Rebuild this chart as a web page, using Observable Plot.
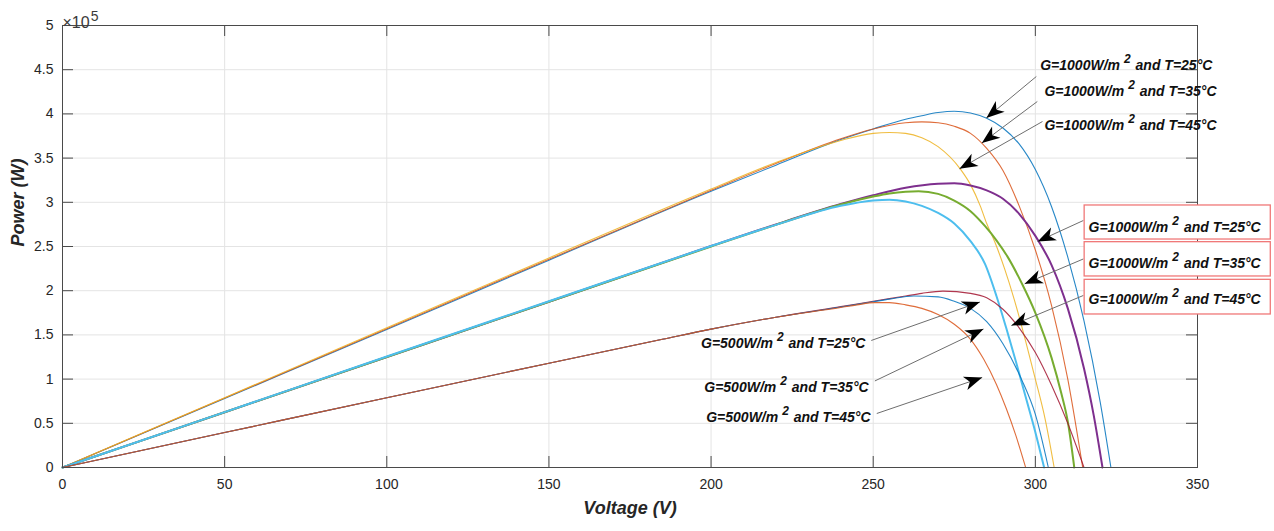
<!DOCTYPE html>
<html>
<head>
<meta charset="utf-8">
<script src="https://cdn.jsdelivr.net/npm/d3@7"></script>
<script src="https://cdn.jsdelivr.net/npm/@observablehq/plot@0.6"></script>
<style>
  html, body { margin: 0; padding: 0; background: #ffffff; }
  #chart { width: 1274px; height: 531px; }
</style>
</head>
<body>
<div id="chart"></div>
<script>
// ---------- axis ticks ----------
const voltageTicks = [0, 50, 100, 150, 200, 250, 300, 350];
const powerTicks = [0, 0.5, 1, 1.5, 2, 2.5, 3, 3.5, 4, 4.5, 5];
const powerTickLabels = ["0", "0.5", "1", "1.5", "2", "2.5", "3", "3.5", "4", "4.5", "5"];

// ---------- series (Voltage V, Power in x10^5 W) ----------
const curveNames = ["A25", "A35", "A45", "B25", "B35", "B45", "C25", "C35", "C45"];
const curveGroups = ["A", "A", "A", "B", "B", "B", "C", "C", "C"];
const curveColors = ["#0072BD", "#D95319", "#EDB120", "#7E2F8E", "#77AC30", "#4DBEEE", "#A2142F", "#0072BD", "#D95319"];

const vA25 = [0, 50, 100, 150, 200, 220, 240, 250, 260, 265, 270, 275, 280, 285, 290, 295, 300, 305, 310, 315, 320, 323.3];
const pA25 = [0, 0.78, 1.56, 2.345, 3.125, 3.42, 3.71, 3.83, 3.94, 3.98, 4.015, 4.03, 4.01, 3.95, 3.84, 3.66, 3.37, 2.95, 2.38, 1.66, 0.74, 0];

const vA35 = [0, 50, 100, 150, 200, 220, 240, 250, 260, 265, 270, 275, 280, 285, 290, 295, 300, 305, 310, 314.6];
const pA35 = [0, 0.785, 1.57, 2.355, 3.135, 3.44, 3.72, 3.83, 3.9, 3.91, 3.9, 3.86, 3.78, 3.61, 3.36, 2.96, 2.46, 1.83, 1.0, 0];

const vA45 = [0, 50, 100, 150, 200, 220, 240, 250, 255, 260, 265, 270, 277, 280, 283, 285, 287.5, 290.5, 293.5, 297, 300, 303, 305.8];
const pA45 = [0, 0.79, 1.58, 2.37, 3.15, 3.45, 3.7, 3.78, 3.79, 3.78, 3.73, 3.63, 3.37, 3.2, 2.96, 2.76, 2.55, 2.25, 1.9, 1.43, 1.0, 0.55, 0];

const vB25 = [0, 50, 100, 150, 200, 220, 240, 250, 260, 270, 275, 280, 285, 290, 295, 300, 305, 310, 315, 318, 320.7];
const pB25 = [0, 0.625, 1.25, 1.875, 2.505, 2.75, 2.98, 3.08, 3.165, 3.21, 3.215, 3.19, 3.135, 3.04, 2.87, 2.62, 2.29, 1.8, 1.12, 0.59, 0];

const vB35 = [0, 50, 100, 150, 200, 220, 240, 250, 255, 260, 264, 270, 275, 280, 284.5, 288, 291.5, 296, 300, 305, 308, 310, 312];
const pB35 = [0, 0.625, 1.25, 1.875, 2.5, 2.745, 2.975, 3.065, 3.1, 3.12, 3.125, 3.095, 3.02, 2.9, 2.73, 2.57, 2.38, 2.07, 1.75, 1.24, 0.84, 0.52, 0];

const vB45 = [0, 50, 100, 150, 200, 220, 240, 250, 255, 260, 265, 270, 275, 280, 284.5, 288, 291, 294, 297, 300, 302.7];
const pB45 = [0, 0.627, 1.255, 1.88, 2.505, 2.745, 2.96, 3.02, 3.03, 3.01, 2.96, 2.88, 2.76, 2.56, 2.3, 1.94, 1.58, 1.2, 0.8, 0.4, 0];

const vC25 = [0, 50, 100, 150, 185, 200, 220, 240, 250, 260, 265, 271.5, 280, 285, 290, 295, 300, 305, 310, 315];
const pC25 = [0, 0.395, 0.79, 1.18, 1.45, 1.565, 1.7, 1.82, 1.88, 1.94, 1.97, 1.995, 1.97, 1.92, 1.79, 1.58, 1.3, 0.93, 0.5, 0];

const vC35 = [0, 50, 100, 150, 185, 200, 220, 240, 250, 255, 262.5, 270, 275, 280, 285, 290, 295.7, 300, 304];
const pC35 = [0, 0.395, 0.79, 1.18, 1.45, 1.565, 1.7, 1.815, 1.875, 1.905, 1.94, 1.93, 1.88, 1.8, 1.65, 1.4, 1.0, 0.6, 0];

const vC45 = [0, 50, 100, 150, 185, 200, 220, 240, 245, 250.5, 255, 260, 265, 270, 275, 280, 284, 288, 291, 294, 297];
const pC45 = [0, 0.395, 0.79, 1.18, 1.45, 1.565, 1.7, 1.81, 1.84, 1.865, 1.865, 1.84, 1.8, 1.73, 1.62, 1.45, 1.23, 0.94, 0.67, 0.36, 0];

const seriesV = [vA25, vA35, vA45, vB25, vB35, vB45, vC25, vC35, vC45];
const seriesP = [pA25, pA35, pA45, pB25, pB35, pB45, pC25, pC35, pC45];

// ---------- annotations (data coordinates) ----------
const topLabels = ["G=1000W/m^2 and T=25°C", "G=1000W/m^2 and T=35°C", "G=1000W/m^2 and T=45°C"];
const topLabelV = [301.5, 302.8, 302.8];
const topLabelP = [4.548, 4.248, 3.869];

const boxLabels = ["G=1000W/m^2 and T=25°C", "G=1000W/m^2 and T=35°C", "G=1000W/m^2 and T=45°C"];
const boxLabelV = [316.4, 316.4, 316.4];
const boxLabelP = [2.718, 2.311, 1.897];
const boxV1 = [315.2, 315.2, 315.2];
const boxV2 = [372.6, 372.6, 372.6];
const boxP1 = [2.579, 2.161, 1.731];
const boxP2 = [2.964, 2.549, 2.123];

const lowLabels = ["G=500W/m^2 and T=25°C", "G=500W/m^2 and T=35°C", "G=500W/m^2 and T=45°C"];
const lowLabelV = [196.9, 197.9, 198.5];
const lowLabelP = [1.40, 0.908, 0.569];

const arrowV1 = [300.3, 300.6, 302.2, 314.8, 314.8, 314.8, 249.4, 250.5, 251.1];
const arrowP1 = [4.423, 4.140, 3.914, 2.794, 2.359, 1.946, 1.437, 0.979, 0.611];
const arrowV2 = [284.9, 283.5, 276.6, 300.7, 296.7, 292.6, 282.9, 284.0, 283.6];
const arrowP2 = [3.954, 3.671, 3.379, 2.557, 2.078, 1.606, 1.872, 1.567, 1.018];

// ---------- build tables ----------
const rows = [];
curveNames.forEach((name, i) => {
  seriesV[i].forEach((v, j) => rows.push({curve: name, group: curveGroups[i], V: v, P: seriesP[i][j]}));
});
const labelRows = (texts, vs, ps) => texts.map((t, i) => ({text: t, V: vs[i], P: ps[i]}));
const topRows = labelRows(topLabels, topLabelV, topLabelP);
const boxTextRows = labelRows(boxLabels, boxLabelV, boxLabelP);
const lowRows = labelRows(lowLabels, lowLabelV, lowLabelP);
const boxRows = boxV1.map((v, i) => ({V1: v, V2: boxV2[i], P1: boxP1[i], P2: boxP2[i]}));
const arrows = arrowV1.map((v, i) => ({V1: v, P1: arrowP1[i], V2: arrowV2[i], P2: arrowP2[i]}));

// ---------- layout ----------
const W = 1274, H = 531;
const mL = 62, mR = 77, mT = 25, mB = 64;
const plotW = W - mL - mR, plotH = H - mT - mB;
const tickLen = 11;
const axisColor = "#4a4a4a";
const font = "'Liberation Sans', Arial, Helvetica, sans-serif";

const baseOptions = {
  width: W, height: H,
  marginLeft: mL, marginRight: mR, marginTop: mT, marginBottom: mB,
  style: {fontFamily: font, fontSize: "14px", color: "#262626", background: "#ffffff", overflow: "visible"},
  x: {domain: [0, 350]},
  y: {domain: [0, 5]},
  color: {domain: curveNames, range: curveColors}
};

// probe scales to orient arrowheads in screen space
const probe = Plot.plot({...baseOptions, marks: [Plot.frame()]});
const sx = probe.scale("x"), sy = probe.scale("y");
arrows.forEach(a => {
  const dx = sx.apply(a.V2) - sx.apply(a.V1);
  const dy = sy.apply(a.P2) - sy.apply(a.P1);
  a.angle = Math.atan2(dy, dx) * 180 / Math.PI;
});

const arrowHead = {
  draw(ctx) {
    ctx.moveTo(0, 0);
    ctx.lineTo(-18, -7);
    ctx.lineTo(-13, 0);
    ctx.lineTo(-18, 7);
    ctx.closePath();
  }
};

const lineOpts = (width, opacity) => ({x: "V", y: "P", z: "curve", stroke: "curve", strokeWidth: width, strokeOpacity: opacity, curve: "monotone-x"});
const textStyle = {x: "V", y: "P", text: "text", textAnchor: "start", fontWeight: "bold", fontStyle: "italic", fontSize: 14, fill: "#111111"};

const chart = Plot.plot({
  ...baseOptions,
  marks: [
    Plot.gridX(voltageTicks, {stroke: "#e4e4e4", strokeOpacity: 1}),
    Plot.gridY(powerTicks, {stroke: "#e4e4e4", strokeOpacity: 1}),
    Plot.line(rows.filter(d => d.group === "A"), lineOpts(1.1, 0.85)),
    Plot.line(rows.filter(d => d.group === "B"), lineOpts(2, 1)),
    Plot.line(rows.filter(d => d.group === "C"), lineOpts(1.1, 0.85)),
    Plot.frame({stroke: axisColor, strokeWidth: 1}),
    Plot.tickX(voltageTicks, {x: d => d, stroke: axisColor, insetTop: plotH - tickLen}),
    Plot.tickX(voltageTicks, {x: d => d, stroke: axisColor, insetBottom: plotH - tickLen}),
    Plot.tickY(powerTicks, {y: d => d, stroke: axisColor, insetRight: plotW - tickLen}),
    Plot.tickY(powerTicks, {y: d => d, stroke: axisColor, insetLeft: plotW - tickLen}),
    Plot.axisX(voltageTicks, {tickSize: 0, tickPadding: 12, label: null, fontSize: 14, fill: "#262626"}),
    Plot.axisY(powerTicks, {tickSize: 0, tickPadding: 9, label: null, fontSize: 14, fill: "#262626",
      tickFormat: d => powerTickLabels[powerTicks.indexOf(d)]}),
    // annotation arrows
    Plot.link(arrows, {x1: "V1", y1: "P1", x2: "V2", y2: "P2", stroke: "#6e6e6e", strokeWidth: 1}),
    Plot.dot(arrows, {x: "V2", y: "P2", symbol: arrowHead, rotate: "angle", fill: "#000000", stroke: "none"}),
    // boxed labels
    Plot.rect(boxRows, {x1: "V1", x2: "V2", y1: "P1", y2: "P2", fill: "#ffffff", stroke: "#f07878", strokeWidth: 1.3}),
    Plot.text(topRows, textStyle),
    Plot.text(boxTextRows, textStyle),
    Plot.text(lowRows, textStyle),
    // exponent and titles
    Plot.text(["×10^5"], {frameAnchor: "top-left", dy: -9, textAnchor: "start", fontSize: 16, fill: "#3a3a3a"}),
    Plot.text(["Voltage (V)"], {frameAnchor: "bottom", dy: 46, fontSize: 18, fontWeight: "bold", fontStyle: "italic", fill: "#262626"}),
    Plot.text(["Power (W)"], {frameAnchor: "left", dx: -44, rotate: -90, fontSize: 18, fontWeight: "bold", fontStyle: "italic", fill: "#262626"})
  ]
});

// superscripts ("^2" in W/m^2, "^5" in x10^5)
d3.select(chart).selectAll("text").each(function () {
  const t = this.textContent;
  const m = t.match(/^(.*)\^(\d)(.*)$/);
  if (!m) return;
  const sel = d3.select(this);
  sel.text(null);
  sel.append("tspan").text(m[1]);
  const isUnit = m[3].length > 0;
  sel.append("tspan")
    .attr("dx", isUnit ? 4 : 1)
    .attr("dy", -7)
    .attr("font-size", isUnit ? "12px" : "14px")
    .text(m[2]);
  if (isUnit) sel.append("tspan").attr("dy", 7).attr("dx", 1).text(m[3]);
});

document.getElementById("chart").appendChild(chart);
</script>
</body>
</html>
